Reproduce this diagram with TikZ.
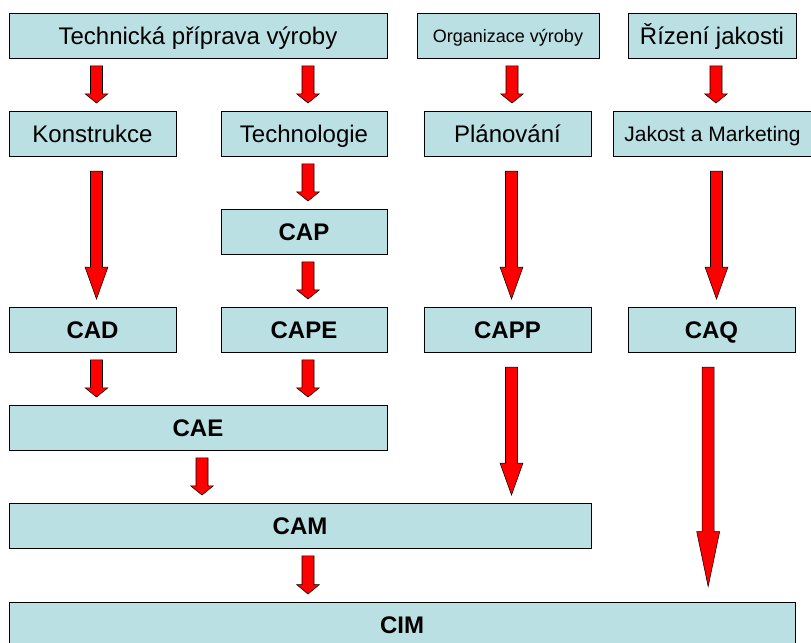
\documentclass[tikz,border=0pt]{standalone}
\usepackage{fontspec}
\setmainfont{Liberation Sans}
\usetikzlibrary{calc}

\definecolor{boxfill}{RGB}{187,224,227}
\definecolor{arrred}{RGB}{255,0,0}

\tikzset{
  box/.style={draw=black, fill=boxfill, line width=0.75pt, inner sep=0pt,
    minimum height=33.75pt, minimum width=125.25pt, text height=15pt, text depth=0.9pt,
    font=\fontsize{18}{21}\selectfont},
  acr/.style={box, font=\fontsize{18}{21}\selectfont\bfseries},
  small/.style={text height=11.5pt, text depth=0.8pt, font=\fontsize{13.5}{16}\selectfont},
  medium/.style={text height=13.3pt, text depth=0.8pt, font=\fontsize{15.75}{18}\selectfont},
  arr top/.initial=5.6pt,
  arr tip/.initial=5.6pt,
  blockarr/.style={draw=black, line width=0.4pt, fill=arrred,
    to path={let \p1=(\tikztostart), \p2=(\tikztotarget),
      \n1={\y1-\pgfkeysvalueof{/tikz/arr top}},
      \n2={\y2+\pgfkeysvalueof{/tikz/arr tip}},
      \n3={\n2+0.25*(\n1-\n2)} in
      ({\x1-1.5pt},{\n1*1pt}) -- ({\x1+7.5pt},{\n1*1pt}) -- ({\x1+7.5pt},{\n3*1pt})
      -- ({\x1+11.6pt},{\n3*1pt}) -- ({\x1+3pt},{\n2*1pt}) -- ({\x1-5.6pt},{\n3*1pt})
      -- ({\x1-1.5pt},{\n3*1pt}) -- cycle}}
}

\begin{document}
\begin{tikzpicture}[x=0.75pt, y=-0.75pt]
  \useasboundingbox (0,0) rectangle (811,643);
  % top row
  \node[box, minimum width=283.5pt] (tpv) at (198,35.5) {Technická příprava výroby};
  \node[box, small, minimum width=136.5pt] (org) at (508,35.5) {Organizace výroby};
  \node[box, minimum width=126pt] (riz) at (712,35.5) {Řízení jakosti};
  % second row
  \node[box] (konstr) at (92.5,133.5) {Konstrukce};
  \node[box, minimum width=124.5pt] (techn) at (304,133.5) {Technologie};
  \node[box] (plan) at (507.5,133.5) {Plánování};
  \node[box, medium, minimum width=149.25pt] (jakm) at (712.5,133.5) {Jakost a Marketing};
  % CA* boxes
  \node[acr, minimum width=124.5pt] (cap) at (304,231.5) {CAP};
  \node[acr] (cad) at (92.5,329.5) {CAD};
  \node[acr, minimum width=124.5pt] (cape) at (304,329.5) {CAPE};
  \node[acr] (capp) at (507.5,329.5) {CAPP};
  \node[acr] (caq) at (711.5,329.5) {CAQ};
  \node[acr, minimum width=283.5pt] (cae) at (198,427.5) {CAE};
  \node[acr, minimum width=436.5pt] (cam) at (300,525.5) {CAM};
  \node[acr, minimum width=589.5pt] (cim) at (402,624.5) {CIM};
  % arrows
  \draw[blockarr] (tpv.south -| konstr) to (konstr.north);
  \draw[blockarr] (tpv.south -| techn) to (techn.north);
  \draw[blockarr] (org.south) to (plan.north);
  \draw[blockarr] (riz.south) to (jakm.north);
  \draw[blockarr, arr top=10.9pt] (konstr.south) to (cad.north);
  \draw[blockarr] (techn.south) to (cap.north);
  \draw[blockarr] (cap.south) to (cape.north);
  \draw[blockarr, arr top=10.9pt] (plan.south) to (capp.north);
  \draw[blockarr, arr top=10.9pt] (jakm.south) to (caq.north);
  \draw[blockarr] (cad.south) to (cae.north);
  \draw[blockarr] (cape.south) to (cae.north);
  \draw[blockarr, arr top=10.9pt] (capp.south) to (cam.north);
  \draw[blockarr, arr top=10.9pt, arr tip=11.25pt] ([xshift=-5.5pt]caq.south) to (cim.north);
  \draw[blockarr] (cae.south) to (cam.north);
  \draw[blockarr] (cam.south -| cape) to (cim.north);
\end{tikzpicture}
\end{document}
